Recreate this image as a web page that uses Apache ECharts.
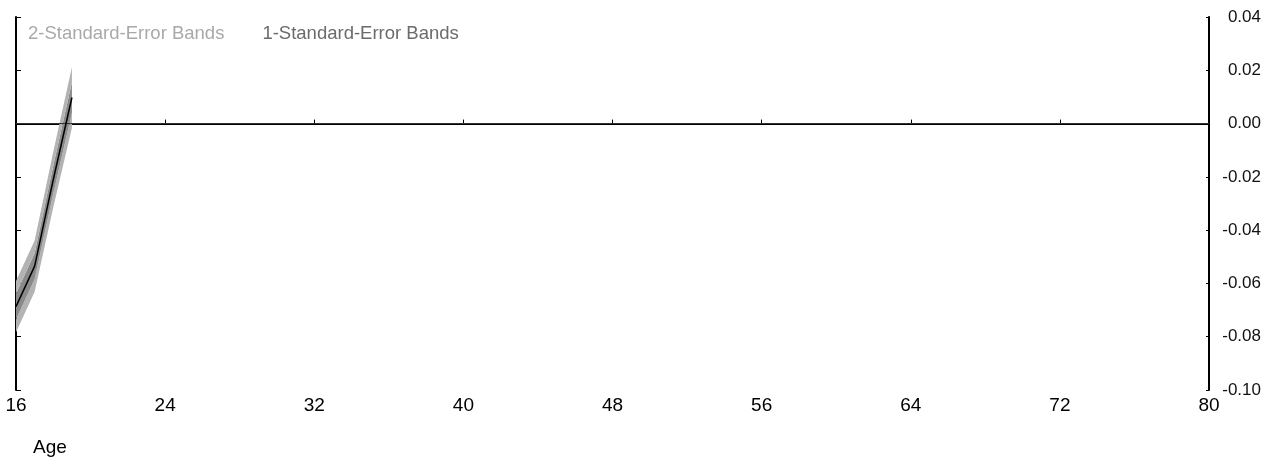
<!DOCTYPE html>
<html>
<head>
<meta charset="utf-8">
<script src="https://cdn.jsdelivr.net/npm/echarts@6/dist/echarts.min.js"></script>
<style>
html, body { margin: 0; padding: 0; background: #fff; }
#chart { width: 1283px; height: 466px; }
</style>
</head>
<body>
<div id="chart"></div>
<script>
// ages and the estimate with its standard error
const ages = [16, 17, 18, 19]
const estimate = [-0.0687, -0.0535, -0.021, 0.0098]
const stdErr = [0.0048, 0.0048, 0.0052, 0.0057]
const yTicks = [-0.10, -0.08, -0.06, -0.04, -0.02, 0.00, 0.02, 0.04]

const band2Name = '2-Standard-Error Bands'
const band1Name = '1-Standard-Error Bands'

// band layers for stacking, stored as [value, age] so the value dim is stacked
const base = ages.map((a, i) => [estimate[i] - 2 * stdErr[i], a])
const low2 = ages.map((a, i) => [stdErr[i], a])
const mid1 = ages.map((a, i) => [2 * stdErr[i], a])
const up2 = ages.map((a, i) => [stdErr[i], a])
const line = ages.map((a, i) => [estimate[i], a])

const chart = echarts.init(document.getElementById('chart'))

function bandSeries(name, data, color) {
    return {
        name: name,
        type: 'line',
        stack: 'se',
        stackStrategy: 'all',
        data: data,
        encode: { x: 1, y: 0 },
        symbol: 'none',
        lineStyle: { width: 0, opacity: 0 },
        areaStyle: color ? { color: color, opacity: 1 } : undefined,
        silent: true
    }
}

const option = {
    animation: false,
    legend: {
        left: 23,
        top: 24,
        padding: 0,
        itemWidth: 0,
        itemHeight: 0,
        itemGap: 33,
        textStyle: { fontSize: 18.5, fontFamily: 'Liberation Sans, Arial, sans-serif' },
        data: [
            { name: band2Name, textStyle: { color: '#a9a9a9' } },
            { name: band1Name, textStyle: { color: '#6b6b6b' } }
        ]
    },
    grid: { left: 16, right: 74, top: 17, bottom: 76 },
    xAxis: {
        type: 'value',
        min: 16,
        max: 80,
        interval: 8,
        axisLine: { lineStyle: { color: '#000', width: 2 } },
        axisTick: { inside: true, length: 4, lineStyle: { color: '#000', width: 1 } },
        axisLabel: {
            margin: 6,
            color: '#000',
            fontSize: 19,
            fontFamily: 'Liberation Sans, Arial, sans-serif'
        },
        splitLine: { show: false }
    },
    yAxis: [
        {
            type: 'value',
            position: 'right',
            min: -0.1,
            max: 0.04,
            interval: 0.02,
            axisLine: { show: true, onZero: false, lineStyle: { color: '#000', width: 2 } },
            axisTick: { show: true, inside: true, length: 3, lineStyle: { color: '#000', width: 1 } },
            axisLabel: {
                align: 'right',
                margin: 52,
                color: '#111',
                fontSize: 17,
                fontFamily: 'Liberation Sans, Arial, sans-serif',
                formatter: v => v.toFixed(2)
            },
            splitLine: { show: false }
        },
        {
            type: 'value',
            position: 'left',
            min: -0.1,
            max: 0.04,
            interval: 0.02,
            axisLine: { show: true, onZero: false, lineStyle: { color: '#000', width: 2 } },
            axisTick: { show: true, inside: true, length: 5, lineStyle: { color: '#000', width: 1 } },
            axisLabel: { show: false },
            splitLine: { show: false }
        }
    ],
    graphic: [
        {
            type: 'text',
            left: 33,
            top: 438,
            style: {
                text: 'Age',
                fill: '#000',
                fontSize: 19,
                fontFamily: 'Liberation Sans, Arial, sans-serif'
            }
        }
    ],
    series: [
        bandSeries('base', base, null),
        bandSeries(band2Name, low2, '#b3b3b3'),
        bandSeries(band1Name, mid1, '#8a8a8a'),
        bandSeries(band2Name, up2, '#b3b3b3'),
        {
            name: 'estimate',
            type: 'line',
            data: line,
            encode: { x: 1, y: 0 },
            symbol: 'none',
            lineStyle: { color: '#000', width: 1.5 },
            z: 5,
            markLine: {
                silent: true,
                symbol: 'none',
                label: { show: false },
                lineStyle: { color: '#333', width: 1, type: 'solid' },
                data: [{ yAxis: 0 }]
            }
        }
    ]
}

option && chart.setOption(option)
</script>
</body>
</html>
